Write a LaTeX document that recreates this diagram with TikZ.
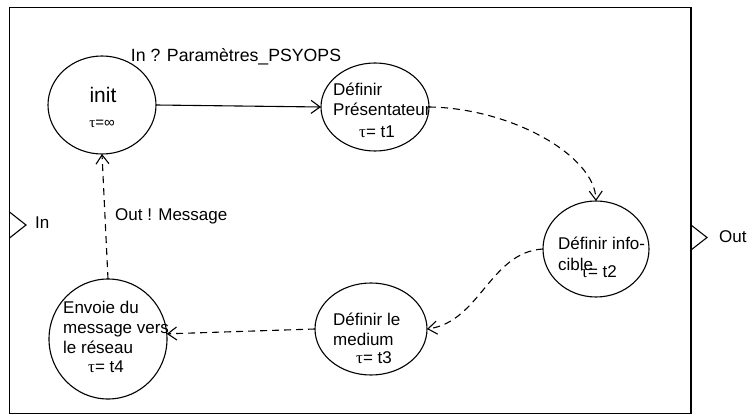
\documentclass[tikz,border=0pt]{standalone}
\usepackage{fontspec}
\setmainfont{Liberation Sans}
\newfontfamily\symfnt{Liberation Serif}
\usetikzlibrary{shapes.geometric,arrows.meta}
\begin{document}
\begin{tikzpicture}[x=1pt,y=-1pt,
  state/.style={draw,ellipse,line width=1.1pt,inner sep=0pt,outer sep=0pt},
  txt/.style={inner sep=0pt,font=\fontsize{17}{20}\selectfont},
  conn/.style={line width=1.1pt,-{Straight Barb[length=9pt,width=13pt]}},
  dsh/.style={conn,dash pattern=on 7pt off 5pt},
  port/.style={line width=1.1pt}]
\useasboundingbox (0,0) rectangle (753,417);
% outer box
\draw[line width=1.1pt] (9.5,7.5) rectangle (691,413.5);
% ports
\draw[port] (9.5,212) -- (26,225) -- (9.5,238);
\node[txt,anchor=base west] (inlbl) at (35,229) {In};
\draw[port] (691,225) -- (707,237.5) -- (691,250);
\node[txt,anchor=base west] (outlbl) at (719,243) {Out};
% states
\node[state,minimum width=108pt,minimum height=98pt] (init) at (102,105) {};
\node[inner sep=0pt,anchor=base,font=\fontsize{21}{24}\selectfont] (initT) at (103,103) {init};
\node[inner sep=0pt,anchor=base,font=\fontsize{15}{18}\selectfont] (initTau) at (102,128) {{\symfnt τ}=∞};

\node[state,minimum width=108pt,minimum height=88pt] (pres) at (375,107) {};
\node[txt,anchor=base west] (presA) at (333,96) {Définir};
\node[txt,anchor=base west] (presB) at (333,116) {Présentateur};
\node[txt,anchor=base] (presTau) at (377,138) {{\symfnt τ}= t1};

\node[state,minimum width=106pt,minimum height=96pt] (info) at (596,249) {};
\node[txt,anchor=base west] (infoA) at (558,249) {Définir info-};
\node[txt,anchor=base west] (infoB) at (558,270) {cible};
\node[txt,anchor=base west] (infoTau) at (581,277) {{\symfnt τ}= t2};

\node[state,minimum width=112pt,minimum height=92pt] (medium) at (371,329) {};
\node[txt,anchor=base west] (medA) at (333,325) {Définir le};
\node[txt,anchor=base west] (medB) at (333,345) {medium};
\node[txt,anchor=base] (medTau) at (374,363) {{\symfnt τ}= t3};

\node[state,minimum width=118pt,minimum height=120pt] (envoie) at (108,339) {};
\node[txt,anchor=base west] (envA) at (63,313) {Envoie du};
\node[txt,anchor=base west] (envB) at (63,333) {message vers};
\node[txt,anchor=base west] (envC) at (63,353) {le réseau};
\node[txt,anchor=base] (envTau) at (106,372) {{\symfnt τ}= t4};
% transitions
\draw[conn] (init.east) -- (pres.west);
\node[inner sep=0pt,anchor=base,font=\fontsize{17.7}{20}\selectfont] (lblIn) at (236,62) {In ? Paramètres\_PSYOPS};
\draw[dsh] (pres.east) .. controls (510,108) and (595,155) .. (info.north);
\draw[dsh] (info.west) .. controls (490,252) and (480,322) .. (medium.east);
\draw[dsh] (medium.west) -- (envoie.5);
\draw[dsh] (envoie.north) -- (init.south);
\node[txt,anchor=base west] (lblOut) at (115,221) {Out ! Message};
\end{tikzpicture}
\end{document}
